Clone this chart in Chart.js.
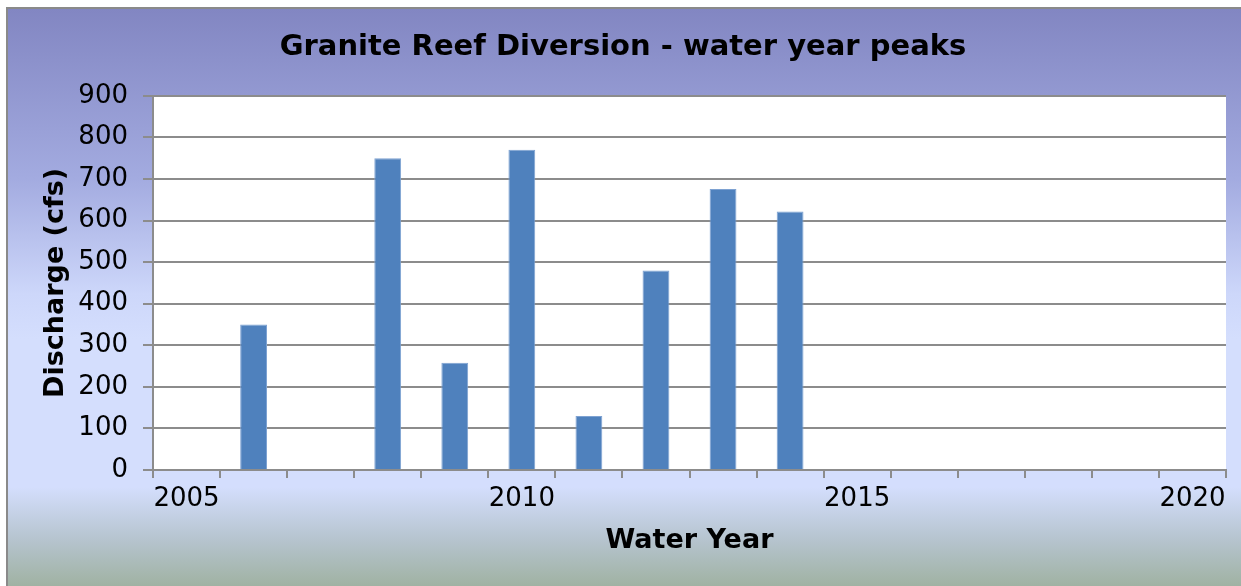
<!DOCTYPE html>
<html>
<head>
<meta charset="utf-8">
<script src="https://cdn.jsdelivr.net/npm/chart.js@4"></script>
<style>
  html, body { margin: 0; padding: 0; background: #ffffff; width: 1241px; height: 586px; overflow: hidden; }
  #frame {
    position: absolute; left: 6px; top: 7px; width: 1250px; height: 600px;
    border: 2px solid #8a8a8a; box-sizing: border-box;
    background: linear-gradient(to bottom, #8286c2 0px, #a3abe0 170px, #cdd7fa 285px, #d4defd 330px, #d4defd 478px, #b6c4cf 530px, #9caf9b 585px);
  }
  #wrap { position: absolute; left: 0; top: 0; width: 1241px; height: 586px; }
</style>
</head>
<body>
<div id="frame"></div>
<div id="wrap"><canvas id="c" width="1241" height="586"></canvas></div>
<script>
const years = ['2005','2006','2007','2008','2009','2010','2011','2012','2013','2014','2015','2016','2017','2018','2019','2020'];
const peaks = [null, 350, null, 750, 258, 770, 130, 480, 676, 622, null, null, null, null, null, null];
const yTicks = [0, 100, 200, 300, 400, 500, 600, 700, 800, 900];
const labeledYears = ['2005', '2010', '2015', '2020'];

const FONT = 'DejaVu Sans';
const GRID = '#8c8c8c';

const plotBg = {
  id: 'plotBg',
  beforeDraw(chart) {
    const { ctx, chartArea: a } = chart;
    ctx.save();
    ctx.fillStyle = '#ffffff';
    ctx.fillRect(a.left, a.top, a.right - a.left, a.bottom - a.top);
    ctx.restore();
  }
};

new Chart(document.getElementById('c'), {
  type: 'bar',
  data: {
    labels: years,
    datasets: [{
      data: peaks,
      backgroundColor: '#4f81bd',
      borderColor: '#7ea2d2',
      borderWidth: 1,
      barPercentage: 0.4,
      categoryPercentage: 1.0
    }]
  },
  plugins: [plotBg],
  options: {
    responsive: false,
    animation: false,
    devicePixelRatio: 1,
    layout: { padding: { left: 20, right: 15, top: 20, bottom: 20 } },
    plugins: {
      legend: { display: false },
      tooltip: { enabled: false },
      title: {
        display: true,
        text: 'Granite Reef Diversion - water year peaks',
        color: '#000',
        font: { family: FONT, size: 29, weight: 'bold' },
        padding: { top: 10, bottom: 31 }
      }
    },
    scales: {
      x: {
        type: 'category',
        grid: {
          offset: true, drawOnChartArea: false, drawTicks: true,
          tickLength: 8, color: GRID, lineWidth: 2
        },
        border: { display: true, color: GRID, width: 2 },
        ticks: {
          autoSkip: false, maxRotation: 0, minRotation: 0,
          color: '#000', font: { family: FONT, size: 26 }, padding: 6,
          callback: function(v, i) { const l = years[i]; return labeledYears.includes(l) ? l : ''; }
        },
        title: {
          display: true, text: 'Water Year', color: '#000',
          font: { family: FONT, size: 27, weight: 'bold' },
          padding: { top: 9, bottom: 9 }
        },
        afterFit: function(s) { s.height = 586 - 20 - 470; }
      },
      y: {
        min: yTicks[0], max: yTicks[yTicks.length - 1],
        afterBuildTicks: function(s) { s.ticks = yTicks.map(v => ({ value: v })); },
        grid: { color: GRID, lineWidth: 2, tickLength: 10, drawTicks: true },
        border: { display: true, color: GRID, width: 2 },
        ticks: { color: '#000', font: { family: FONT, size: 26 }, padding: 15 },
        title: {
          display: true, text: 'Discharge (cfs)', color: '#000',
          font: { family: FONT, size: 27, weight: 'bold' },
          padding: { top: 20, bottom: 0 }
        },
        afterFit: function(s) { s.width = 153 - 20; }
      }
    }
  }
});
</script>
</body>
</html>
